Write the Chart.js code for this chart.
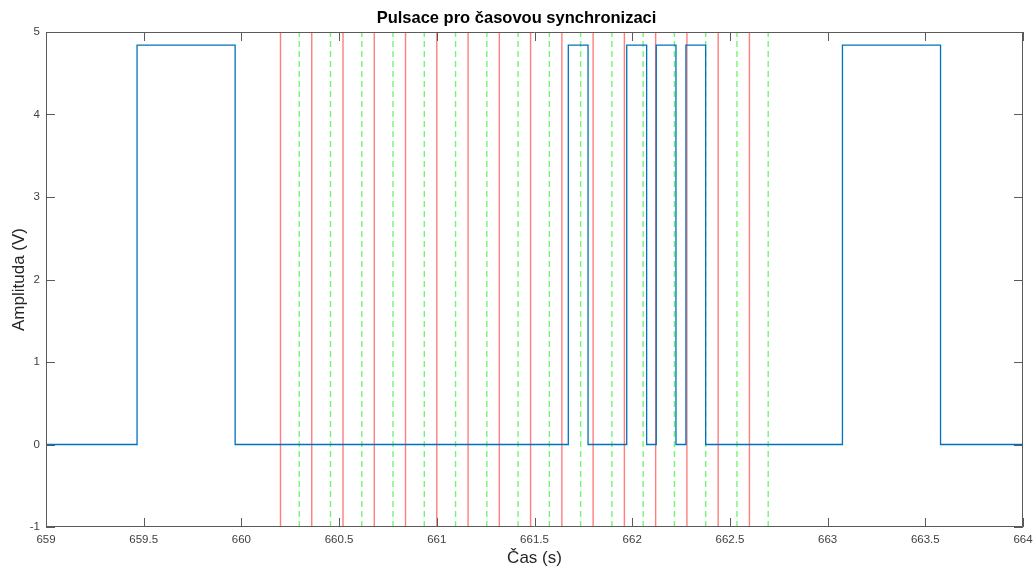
<!DOCTYPE html>
<html>
<head>
<meta charset="utf-8">
<script src="https://cdn.jsdelivr.net/npm/chart.js@4"></script>
<style>
  html, body { margin: 0; padding: 0; background: #fff; }
  #wrap { width: 1033px; height: 567px; }
</style>
</head>
<body>
<div id="wrap"><canvas id="syncChart" width="1033" height="567"></canvas></div>
<script>
// --- Data ---
// Signal edges (s) and the level that holds from each edge on (V)
const edgeTimes = [659, 659.466, 659.968, 661.673, 661.774, 661.972, 662.074, 662.123, 662.224, 662.275, 662.376, 663.076, 663.578, 664];
const edgeLevels = [0, 4.84, 0, 4.84, 0, 4.84, 0, 4.84, 0, 4.84, 0, 4.84, 0, 0];

// Sync markers (s)
const redTimes = [660.2, 660.36, 660.52, 660.68, 660.84, 661.0, 661.16, 661.32, 661.48, 661.64, 661.8, 661.96, 662.12, 662.28, 662.44, 662.6];
const greenTimes = [660.296, 660.456, 660.616, 660.776, 660.936, 661.096, 661.256, 661.416, 661.576, 661.736, 661.896, 662.056, 662.216, 662.376, 662.536, 662.696];

const xRange = [659, 664];
const yRange = [-1, 5];

const FONT = 'Liberation Sans, Arial, sans-serif';

// --- Build step trace from edges ---
function stepPoints(times, levels) {
    const pts = [{ x: times[0], y: levels[0] }];
    for (let i = 1; i < times.length; i++) {
        pts.push({ x: times[i], y: levels[i - 1] });
        pts.push({ x: times[i], y: levels[i] });
    }
    return pts;
}

function markerDatasets(times, color, dash) {
    return times.map(t => ({
        data: [{ x: t, y: yRange[0] }, { x: t, y: yRange[1] }],
        borderColor: color,
        borderWidth: 1.4,
        borderDash: dash,
        pointRadius: 0,
        order: 2
    }));
}

// Box round the plot with inward ticks, MATLAB style
const boxPlugin = {
    id: 'box',
    afterDraw(chart) {
        const { ctx, chartArea: a, scales } = chart;
        const len = 9;
        ctx.save();
        ctx.strokeStyle = '#5a5a5a';
        ctx.lineWidth = 1;
        ctx.beginPath();
        ctx.rect(a.left + 0.5, a.top + 0.5, a.right - a.left - 1, a.bottom - a.top - 1);
        scales.x.ticks.forEach(t => {
            const px = Math.round(scales.x.getPixelForValue(t.value)) + 0.5;
            ctx.moveTo(px, a.bottom); ctx.lineTo(px, a.bottom - len);
            ctx.moveTo(px, a.top); ctx.lineTo(px, a.top + len);
        });
        scales.y.ticks.forEach(t => {
            const py = Math.round(scales.y.getPixelForValue(t.value)) + 0.5;
            ctx.moveTo(a.left, py); ctx.lineTo(a.left + len, py);
            ctx.moveTo(a.right, py); ctx.lineTo(a.right - len, py);
        });
        ctx.stroke();
        ctx.restore();
    }
};

const ctx = document.getElementById('syncChart').getContext('2d');
new Chart(ctx, {
    type: 'line',
    data: {
        datasets: [
            {
                data: stepPoints(edgeTimes, edgeLevels),
                borderColor: '#0072BD',
                borderWidth: 1.3,
                pointRadius: 0,
                order: 1
            },
            ...markerDatasets(redTimes, 'rgba(255,40,40,0.6)', []),
            ...markerDatasets(greenTimes, 'rgba(40,240,40,0.65)', [6, 4])
        ]
    },
    options: {
        responsive: false,
        animation: false,
        layout: { padding: { left: 0, right: 0, top: 0, bottom: 0 } },
        plugins: {
            legend: { display: false },
            tooltip: { enabled: false },
            title: {
                display: true,
                text: 'Pulsace pro časovou synchronizaci',
                color: '#000',
                font: { family: FONT, size: 16.5, weight: 'bold' },
                padding: { top: 8.5, bottom: 3.7 }
            }
        },
        scales: {
            x: {
                type: 'linear',
                min: xRange[0],
                max: xRange[1],
                afterFit: s => { s.height = 40; s.paddingRight = 10; },
                ticks: {
                    stepSize: 0.5,
                    padding: 6,
                    color: '#404040',
                    font: { family: FONT, size: 11.5 },
                    callback: v => String(v)
                },
                grid: { display: false, drawTicks: false },
                border: { display: false },
                title: {
                    display: true,
                    text: 'Čas (s)',
                    color: '#262626',
                    font: { family: FONT, size: 17 },
                    padding: { top: 0, bottom: -2 }
                }
            },
            y: {
                type: 'linear',
                min: yRange[0],
                max: yRange[1],
                afterFit: s => { s.width = 46; },
                ticks: {
                    stepSize: 1,
                    padding: 6,
                    color: '#404040',
                    font: { family: FONT, size: 11.5 }
                },
                grid: { display: false, drawTicks: false },
                border: { display: false },
                title: {
                    display: true,
                    text: 'Amplituda (V)',
                    color: '#262626',
                    font: { family: FONT, size: 17 },
                    padding: { top: 9, bottom: 0 }
                }
            }
        }
    },
    plugins: [boxPlugin]
});
</script>
</body>
</html>
